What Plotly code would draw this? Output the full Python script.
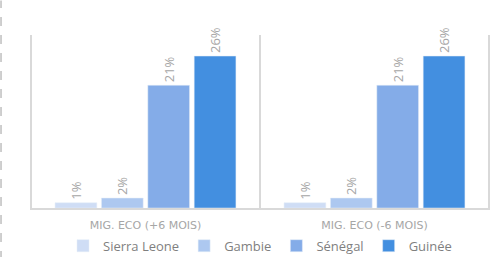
import plotly.graph_objects as go

categories = ["MIG. ECO (+6 MOIS)", "MIG. ECO (-6 MOIS)"]
series_names = ["Sierra Leone", "Gambie", "Sénégal", "Guinée"]
sierra_leone = [0.9, 0.9]
gambie = [1.7, 1.7]
senegal = [21.0, 21.0]
guinee = [26.0, 26.0]
labels = {
    "Sierra Leone": ["1%", "1%"],
    "Gambie": ["2%", "2%"],
    "Sénégal": ["21%", "21%"],
    "Guinée": ["26%", "26%"],
}
colors = ["#CFDDF5", "#ADC8F0", "#84ACE8", "#438FE0"]

values = [sierra_leone, gambie, senegal, guinee]

fig = go.Figure()
for name, vals, col in zip(series_names, values, colors):
    fig.add_trace(go.Bar(
        x=categories, y=vals, name=name, marker_color=col,
        text=[t + "\u00a0\u00a0" for t in labels[name]],
        textposition="outside", textangle=-90,
        textfont=dict(color="#A6A6A6", size=13, family="Open Sans"),
        cliponaxis=False,
    ))

fig.update_layout(
    width=504, height=257,
    margin=dict(l=30, r=14, t=35, b=49, autoexpand=False),
    plot_bgcolor="white", paper_bgcolor="white",
    barmode="group", bargap=0.19, bargroupgap=0.1,
    showlegend=True,
    legend=dict(orientation="h", x=0.5, xanchor="center", y=-0.305, yanchor="bottom",
                font=dict(color="#7F7F7F", size=13, family="Open Sans"),
                itemwidth=30, tracegroupgap=0),
    font=dict(family="Open Sans"),
)
fig.update_xaxes(showgrid=False, showline=True, linecolor="#D9D9D9", linewidth=2,
                 tickfont=dict(color="#A6A6A6", size=11, family="DejaVu Sans"),
                 ticks="", ticklabelstandoff=6, automargin=False)
fig.update_yaxes(range=[0, 29.6], showgrid=False, showticklabels=False, zeroline=False,
                 showline=False, automargin=False)

for xb in [-0.5, 0.5, 1.5]:
    fig.add_shape(type="line", xref="x", yref="paper", x0=xb, x1=xb, y0=0, y1=1,
                  line=dict(color="#D9D9D9", width=2))
fig.add_shape(type="line", xref="paper", yref="paper", x0=-0.063, x1=-0.063, y0=-0.3, y1=1.2,
              line=dict(color="#BFBFBF", width=1.5, dash="dash"))

fig.write_html("out.html", config={"displayModeBar": False},
               post_script="document.body.style.margin='0';document.body.style.overflow='hidden';")
